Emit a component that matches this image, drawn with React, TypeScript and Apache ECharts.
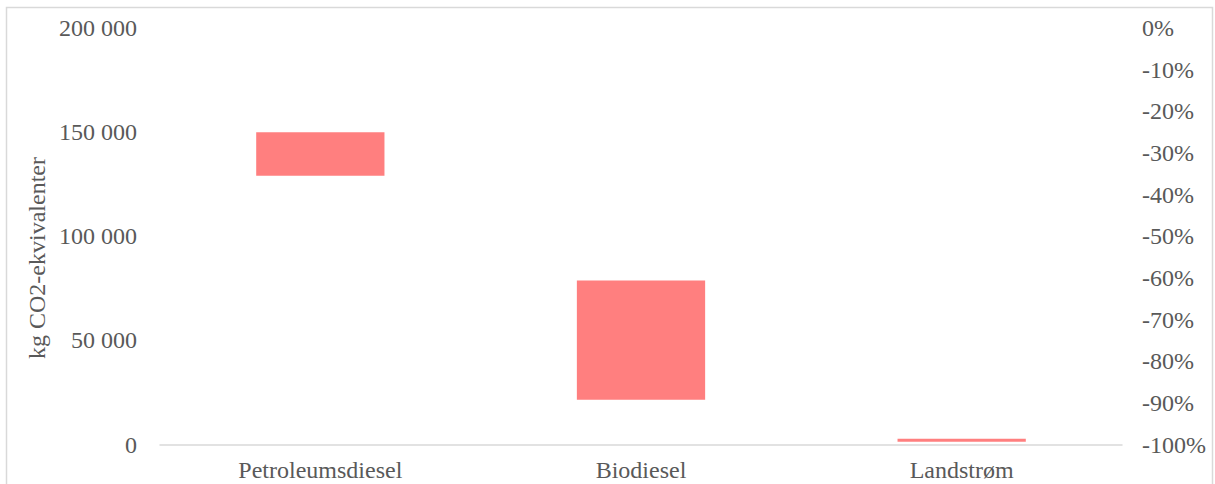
import React, { useEffect, useRef } from "react";
import * as echarts from "echarts";

// Emission ranges per energy source (kg CO2-equivalents)
const categories = ["Petroleumsdiesel", "Biodiesel", "Landstrøm"];
const lowValues = [129000, 21500, 1350];
const highValues = [150000, 78800, 2800];

// Axis ranges and ticks
const leftTicks = { min: 0, max: 200000, interval: 50000 };
const rightTicks = { min: -1, max: 0, interval: 0.1 };

const FONT = "Liberation Serif, Times New Roman, serif";
const FONT_SIZE = 24;
const TEXT_COLOR = "#595959";
const LINE_COLOR = "#D9D9D9";
const BAR_COLOR = "#FF7F7F";

const formatThousands = (v: number) =>
  String(Math.round(v)).replace(/\B(?=(\d{3})+(?!\d))/g, " ");

export default function App() {
  const ref = useRef<HTMLDivElement>(null);

  useEffect(() => {
    document.body.style.margin = "0";
    if (!ref.current) return;
    const chart = echarts.init(ref.current, undefined, { renderer: "svg" });

    const spans = highValues.map((h, i) => h - lowValues[i]);

    chart.setOption({
      animation: false,
      backgroundColor: "#ffffff",
      textStyle: { fontFamily: FONT },
      grid: { left: 160, right: 93, top: 28, bottom: 39.5 },
      graphic: [
        {
          type: "rect",
          shape: { x: 6.5, y: 7.5, width: 1206, height: 520 },
          style: { fill: "none", stroke: LINE_COLOR, lineWidth: 1.5 },
          silent: true,
        },
        {
          type: "text",
          x: 37,
          y: 258,
          rotation: Math.PI / 2,
          style: {
            text: "kg CO2-ekvivalenter",
            font: `${FONT_SIZE}px ${FONT}`,
            fill: TEXT_COLOR,
            align: "center",
            verticalAlign: "middle",
          },
        },
      ],
      xAxis: {
        type: "category",
        data: categories,
        axisLine: { show: true, lineStyle: { color: LINE_COLOR, width: 1.5 } },
        axisTick: { show: false },
        axisLabel: {
          color: TEXT_COLOR,
          fontFamily: FONT,
          fontSize: FONT_SIZE,
          margin: 13,
        },
      },
      yAxis: [
        {
          type: "value",
          min: leftTicks.min,
          max: leftTicks.max,
          interval: leftTicks.interval,
          axisLine: { show: false },
          axisTick: { show: false },
          splitLine: { show: false },
          axisLabel: {
            color: TEXT_COLOR,
            fontFamily: FONT,
            fontSize: FONT_SIZE,
            margin: 23,
            formatter: (v: number) => formatThousands(v),
          },
        },
        {
          type: "value",
          position: "right",
          min: rightTicks.min,
          max: rightTicks.max,
          interval: rightTicks.interval,
          axisLine: { show: false },
          axisTick: { show: false },
          splitLine: { show: false },
          axisLabel: {
            color: TEXT_COLOR,
            fontFamily: FONT,
            fontSize: FONT_SIZE,
            margin: 20,
            formatter: (v: number) => `${Math.round(v * 100)}%`,
          },
        },
      ],
      series: [
        {
          name: "base",
          type: "bar",
          stack: "range",
          yAxisIndex: 0,
          barWidth: "40%",
          itemStyle: { color: "transparent" },
          silent: true,
          data: lowValues,
        },
        {
          name: "range",
          type: "bar",
          stack: "range",
          yAxisIndex: 0,
          barWidth: "40%",
          itemStyle: { color: BAR_COLOR },
          data: spans,
        },
      ],
    });

    return () => chart.dispose();
  }, []);

  return <div ref={ref} style={{ width: 1215, height: 484 }} />;
}
